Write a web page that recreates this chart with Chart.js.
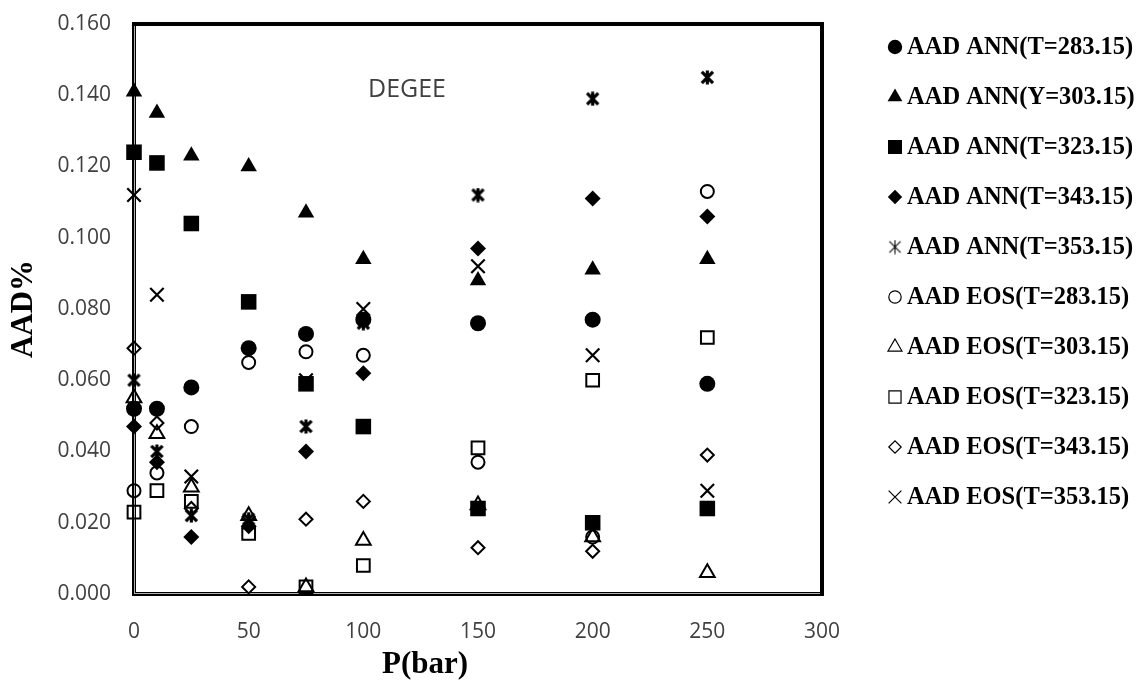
<!DOCTYPE html>
<html>
<head>
<meta charset="utf-8">
<script src="https://cdn.jsdelivr.net/npm/chart.js@4.4.1/dist/chart.umd.min.js"></script>
<style>
  html, body { margin: 0; padding: 0; background: #ffffff; }
  #wrap { width: 1137px; height: 690px; position: relative; }
</style>
</head>
<body>
<div id="wrap"><canvas id="c" width="1137" height="690"></canvas></div>
<script>
// Pressure levels (bar)
const pressures = [0, 10, 25, 50, 75, 100, 150, 200, 250];

// AAD% of the ANN model at each temperature
const annT283 = [0.052, 0.052, 0.058, 0.069, 0.073, 0.077, 0.076, 0.077, 0.059];
const annT303 = [0.141, 0.135, 0.123, 0.120, 0.107, 0.094, 0.088, 0.091, 0.094];
const annT323 = [0.124, 0.121, 0.104, 0.082, 0.059, 0.047, 0.024, 0.020, 0.024];
const annT343 = [0.047, 0.037, 0.016, 0.019, 0.040, 0.062, 0.097, 0.111, 0.106];
const annT353 = [0.060, 0.040, 0.022, 0.021, 0.047, 0.076, 0.112, 0.139, 0.145];

// AAD% of the equation of state at each temperature
const eosT283 = [0.029, 0.034, 0.047, 0.065, 0.068, 0.067, 0.037, 0.016, 0.113];
const eosT303 = [0.055, 0.045, 0.030, 0.022, 0.002, 0.015, 0.025, 0.016, 0.006];
const eosT323 = [0.023, 0.029, 0.026, 0.017, 0.002, 0.008, 0.041, 0.060, 0.072];
const eosT343 = [0.069, 0.048, 0.024, 0.002, 0.021, 0.026, 0.013, 0.012, 0.039];
const eosT353 = [0.112, 0.084, 0.033, 0.020, 0.060, 0.080, 0.092, 0.067, 0.029];

const seriesLabels = [
  'AAD ANN(T=283.15)', 'AAD ANN(Y=303.15)', 'AAD ANN(T=323.15)', 'AAD ANN(T=343.15)', 'AAD ANN(T=353.15)',
  'AAD EOS(T=283.15)', 'AAD EOS(T=303.15)', 'AAD EOS(T=323.15)', 'AAD EOS(T=343.15)', 'AAD EOS(T=353.15)'
];
const seriesValues = [annT283, annT303, annT323, annT343, annT353, eosT283, eosT303, eosT323, eosT343, eosT353];

// Axis ticks
const xTicks = [0, 50, 100, 150, 200, 250, 300];
const yTicks = [0, 0.02, 0.04, 0.06, 0.08, 0.10, 0.12, 0.14, 0.16];

// Six-armed asterisk marker (x with a vertical bar)
function asteriskMarker(size, lw) {
  const c = document.createElement('canvas');
  c.width = size; c.height = size;
  const g = c.getContext('2d');
  g.strokeStyle = '#000';
  g.lineWidth = lw;
  g.lineCap = 'butt';
  const m = size / 2, r = size / 2 - 0.5;
  const d = r * 0.8;
  g.beginPath();
  g.moveTo(m, m - r); g.lineTo(m, m + r);
  g.moveTo(m - d, m - d); g.lineTo(m + d, m + d);
  g.moveTo(m + d, m - d); g.lineTo(m - d, m + d);
  g.stroke();
  return c;
}
const asteriskPlot = asteriskMarker(15, 3.2);
const asteriskKey = asteriskMarker(15, 1.1);

const markerStyles = [
  { pointStyle: 'circle',   radius: 8,   fill: '#000', border: 0 },
  { pointStyle: 'triangle', radius: 9.5, fill: '#000', border: 0 },
  { pointStyle: 'rect',     radius: 11,  fill: '#000', border: 0 },
  { pointStyle: 'rectRot',  radius: 8,   fill: '#000', border: 0 },
  { pointStyle: asteriskPlot, radius: 7, fill: '#000', border: 0, key: asteriskKey },
  { pointStyle: 'circle',   radius: 6.5, fill: 'rgba(0,0,0,0)', border: 2 },
  { pointStyle: 'triangle', radius: 8.5, fill: 'rgba(0,0,0,0)', border: 2 },
  { pointStyle: 'rect',     radius: 9,   fill: 'rgba(0,0,0,0)', border: 2 },
  { pointStyle: 'rectRot',  radius: 6.5, fill: 'rgba(0,0,0,0)', border: 2 },
  { pointStyle: 'crossRot', radius: 9.5, fill: 'rgba(0,0,0,0)', border: 2.2 }
];

const datasets = seriesValues.map((vals, i) => ({
  label: seriesLabels[i],
  data: pressures.map((p, k) => ({ x: p, y: vals[k] })),
  pointStyle: markerStyles[i].pointStyle,
  pointRadius: markerStyles[i].radius,
  pointHoverRadius: markerStyles[i].radius,
  backgroundColor: markerStyles[i].fill,
  borderColor: '#000',
  pointBorderWidth: markerStyles[i].border,
  showLine: false,
  clip: false,
  order: seriesValues.length - i
}));

// Plot frame: heavy black box, doubled on the left and bottom axes
const framePlugin = {
  id: 'plotFrame',
  beforeDatasetsDraw(chart) {
    const { ctx, chartArea: a } = chart;
    const L = Math.round(a.left), R = Math.round(a.right);
    const T = Math.round(a.top), B = Math.round(a.bottom);
    ctx.save();
    ctx.fillStyle = '#000';
    ctx.fillRect(L - 2, T - 2, R - L + 4, 4);   // top
    ctx.fillRect(R - 2, T - 2, 4, B - T + 4);   // right
    ctx.fillRect(L - 2, T - 2, 4, B - T + 4);   // left
    ctx.fillRect(L - 2, B - 2, R - L + 4, 4);   // bottom
    ctx.fillStyle = '#b0b0b0';
    ctx.fillRect(L, T + 2, 1, B - T - 2);
    ctx.fillRect(L, B - 1, R - L - 2, 1);
    ctx.restore();
  }
};

// In-plot caption and the pressure-axis title
const captionPlugin = {
  id: 'caption',
  afterDatasetsDraw(chart) {
    const { ctx, chartArea: a } = chart;
    ctx.save();
    ctx.fillStyle = '#404040';
    ctx.font = '25px "Open Sans"';
    ctx.textAlign = 'center';
    ctx.textBaseline = 'middle';
    ctx.fillText('DEGEE', a.left + 273, a.top + 66);
    ctx.fillStyle = '#000';
    ctx.font = 'bold 31px "Liberation Serif"';
    ctx.fillText('P(bar)', 425, 665);
    ctx.restore();
  }
};

// Series key to the right of the plot
const keyPlugin = {
  id: 'seriesKey',
  afterDraw(chart) {
    const { ctx, chartArea: a } = chart;
    const mx = a.right + 73, tx = a.right + 85;
    const top = 47, step = 50;
    chart.data.datasets.forEach((ds, i) => {
      const st = markerStyles[i];
      const y = top + i * step;
      ctx.save();
      ctx.fillStyle = st.fill;
      ctx.strokeStyle = '#000';
      ctx.lineWidth = st.border ? 1.2 : 0;
      Chart.helpers.drawPoint(ctx, {
        pointStyle: st.key || st.pointStyle,
        radius: st.border ? st.radius * 0.95 : st.radius * 0.9,
        rotation: 0,
        borderWidth: st.border ? 1.2 : 0
      }, mx, y);
      ctx.fillStyle = '#000';
      ctx.font = 'bold 24.5px "Liberation Serif"';
      ctx.textAlign = 'left';
      ctx.textBaseline = 'middle';
      ctx.fillText(ds.label, tx, y + 1);
      ctx.restore();
    });
  }
};

const tickFont = { family: '"Open Sans"', size: 21 };

new Chart(document.getElementById('c'), {
  type: 'scatter',
  data: { datasets },
  options: {
    responsive: false,
    animation: false,
    devicePixelRatio: 1,
    layout: { padding: { top: 24, right: 315, left: 0, bottom: 0 } },
    plugins: {
      legend: { display: false },
      tooltip: { enabled: false }
    },
    scales: {
      x: {
        type: 'linear',
        min: xTicks[0],
        max: xTicks[xTicks.length - 1],
        afterFit(s) { s.height = 96; s.paddingLeft = 0; s.paddingRight = 0; },
        afterBuildTicks(s) { s.ticks = xTicks.map(v => ({ value: v })); },
        grid: { display: false, drawTicks: false },
        border: { display: false },
        ticks: { font: tickFont, color: '#404040', padding: 25, maxRotation: 0, callback: v => String(v) },
        title: { display: false }
      },
      y: {
        type: 'linear',
        min: yTicks[0],
        max: yTicks[yTicks.length - 1],
        afterFit(s) { s.width = 134; s.paddingTop = 0; s.paddingBottom = 0; },
        afterBuildTicks(s) { s.ticks = yTicks.map(v => ({ value: v })); },
        grid: { display: false, drawTicks: false },
        border: { display: false },
        ticks: { font: tickFont, color: '#404040', padding: 23, callback: v => Number(v).toFixed(3) },
        title: {
          display: true, text: 'AAD%', color: '#000',
          font: { family: '"Liberation Serif"', size: 31, weight: 'bold' },
          padding: { top: 5, bottom: 0 }
        }
      }
    }
  },
  plugins: [framePlugin, captionPlugin, keyPlugin]
});
</script>
</body>
</html>
